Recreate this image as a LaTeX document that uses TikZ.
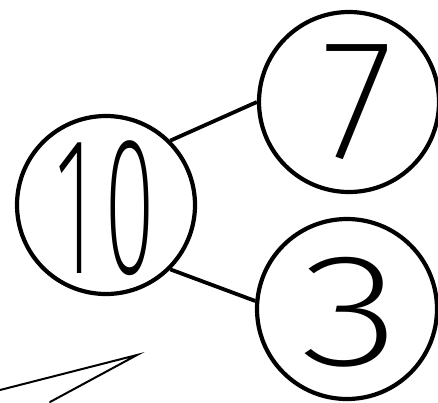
\documentclass[tikz,border=0pt]{standalone}
\usepackage{fontspec}
\newfontfamily\hand{Fira Sans ExtraLight}[Numbers=Lining]
\usepackage{graphicx}
\begin{document}
\begin{tikzpicture}[x=1pt,y=-1pt,
  bond/.style={circle,draw,line width=4.2pt,inner sep=0pt},
  digit/.style={inner sep=0pt,font=\hand},
  link/.style={line width=3.8pt},
  thinline/.style={line width=2pt,line cap=round,line join=miter}]
\useasboundingbox (0,0) rectangle (438,402);
\node[bond,minimum size=178pt] (c10) at (106,205) {};
\node[bond,minimum size=180pt] (c7) at (349,102) {};
\node[bond,minimum size=180pt] (c3) at (347,309) {};
\node[digit] (t10) at (106,208) {\resizebox*{100pt}{135pt}{1\hspace{0.12em}0}};
\node[digit] (t7) at (358,102) {\resizebox*{72pt}{115pt}{7}};
\node[digit] (t3) at (351,312) {\resizebox*{100pt}{110pt}{3}};
\draw[link] (c10.45) -- (c7.180);
\draw[link] (c10.-45) -- (c3.175);
\coordinate (pa) at (0,390);
\coordinate (apex) at (137,355);
\coordinate (pb) at (50,402);
\draw[thinline] (pa) -- (apex) -- (pb);
\end{tikzpicture}
\end{document}
